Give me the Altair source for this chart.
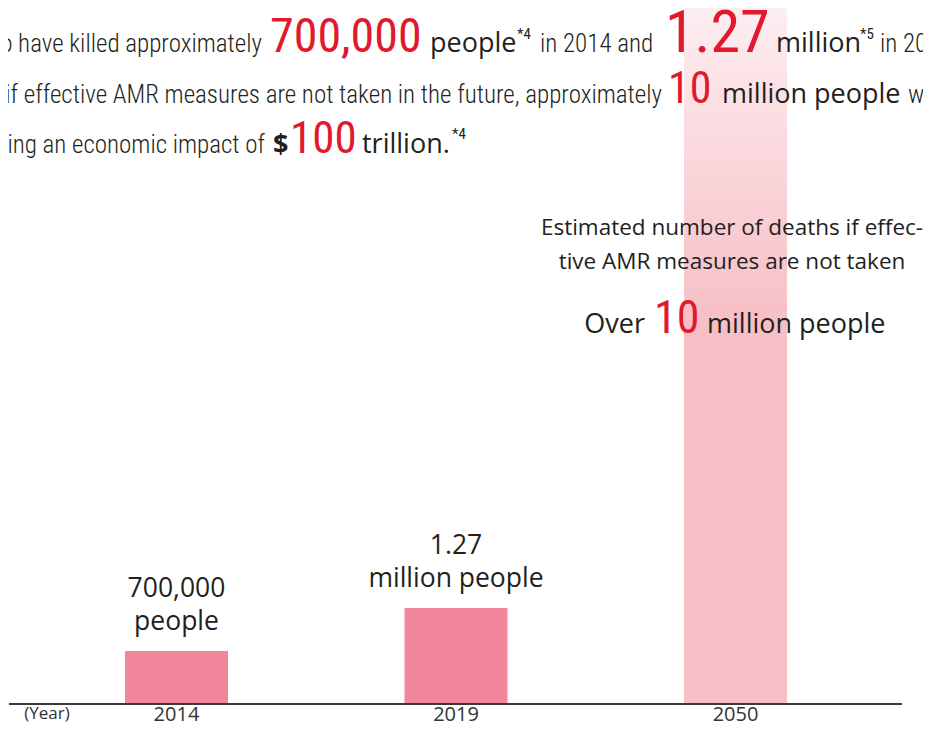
import altair as alt
import pandas as pd

# ---- data ----
years = ["2014", "2019", "2050"]
deaths_million = [0.7, 1.27, 10]
projected = [False, False, True]
label_line1 = ["700,000", "1.27", ""]
label_line2 = ["people", "million people", ""]

df = pd.DataFrame({
    "year": years,
    "deaths": deaths_million,
    "projected": projected,
    "line1": label_line1,
    "line2": label_line2,
})

DARK = "#231f20"
RED = "#e1192e"
BAR = "#f2869a"
SANS = "Open Sans"
NARROW = "Roboto Condensed, Roboto"

W, H = 896, 696

xscale = alt.Scale(domain=years, paddingInner=0.6315, paddingOuter=0.4186)
yscale = alt.Scale(domain=[0, 9.2], nice=False, zero=True)

base = alt.Chart(df).encode(
    x=alt.X("year:N", scale=xscale,
            axis=alt.Axis(title=None, domain=False, ticks=False, grid=False,
                          labelAngle=0, labelFontSize=20, labelColor="#333333",
                          labelFont=SANS, labelBaseline="middle", labelPadding=10)),
    y=alt.Y("deaths:Q", scale=yscale, axis=None),
)

grad = alt.Gradient(
    gradient="linear",
    stops=[
        alt.GradientStop(color="#fffbfc", offset=0),
        alt.GradientStop(color="#fdeff2", offset=0.07),
        alt.GradientStop(color="#f7bec5", offset=0.5),
        alt.GradientStop(color="#f7bec5", offset=1),
    ],
    x1=0, x2=0, y1=0, y2=1,
)

bars = base.transform_filter("!datum.projected").mark_bar(color=BAR)
bar_future = base.transform_filter("datum.projected").mark_bar(color=grad, clip=True)

lab1 = base.mark_text(fontSize=26.5, font=SANS, color=DARK, baseline="alphabetic", dy=-54).encode(text="line1:N")
lab2 = base.mark_text(fontSize=26.5, font=SANS, color=DARK, baseline="alphabetic", dy=-21).encode(text="line2:N")

baseline_rule = alt.Chart(pd.DataFrame({"v": [0]})).mark_rule(color="#3a3a3a", strokeWidth=2).encode(
    y=alt.Y("v:Q", scale=yscale, axis=None), x=alt.value(1), x2=alt.value(894))


def txt(s, x, y, size, color=DARK, font=SANS, align="left", weight="normal", baseline="alphabetic"):
    return alt.Chart(pd.DataFrame({"label": [s]})).mark_text(
        align=align, baseline=baseline, fontSize=size, color=color,
        font=font, fontWeight=weight,
    ).encode(x=alt.value(x), y=alt.value(y), text="label:N")


BODY = 25
LIGHT = 300

# top paragraph (cropped at the edges, like the reference)
para = [
    txt("AMR is said to have killed approximately", 254, 44, BODY, font=NARROW, align="right", weight=LIGHT),
    txt("700,000", 262, 44, 48, color=RED, font=NARROW),
    txt("people", 422, 44, 27),
    txt("*4", 509, 31, 15, font=NARROW),
    txt("in 2014 and", 532, 44, BODY, font=NARROW, weight=LIGHT),
    txt("1.27", 657, 44, 60, color=RED, font=NARROW),
    txt("million", 768, 44, 27),
    txt("*5", 852, 31, 15, font=NARROW),
    txt("in 2019.", 872, 44, BODY, font=NARROW, weight=LIGHT),
    txt("It is also estimated that if effective AMR measures are not taken in the future, approximately",
        654, 95, BODY, font=NARROW, align="right", weight=LIGHT),
    txt("10", 660, 95, 44, color=RED, font=NARROW),
    txt("million people", 714, 95, 27),
    txt("will die in 2050,", 900, 95, BODY, font=NARROW, weight=LIGHT),
    txt("annually by 2050, causing an economic impact of", 257, 145, BODY, font=NARROW, align="right", weight=LIGHT),
    txt("$", 265, 145, 27, weight="bold"),
    txt("100", 282, 145, 45, color=RED, font=NARROW),
    txt("trillion.", 354, 145, 27),
    txt("*4", 444, 131, 15, font=NARROW),
]

notes = [
    txt("Estimated number of deaths if effec-", 724, 227, 22.5, align="center"),
    txt("tive AMR measures are not taken", 724, 261, 22.5, align="center"),
    txt("Over", 637, 325, 27, align="right"),
    txt("10", 646, 325, 46, color=RED, font=NARROW),
    txt("million people", 699, 325, 27),
    txt("(Year)", 39, 706, 17, color="#333333", align="center", baseline="middle"),
]

chart = alt.layer(
    bar_future, bars, baseline_rule, lab1, lab2, *para, *notes
).properties(
    width=W, height=H,
    background="white",
    autosize=alt.AutoSizeParams(type="none"),
    padding={"left": 0, "top": 0, "right": 19, "bottom": 24},
).configure_view(strokeWidth=0)

chart.save("out.html", embed_options={"renderer": "svg", "actions": False})
